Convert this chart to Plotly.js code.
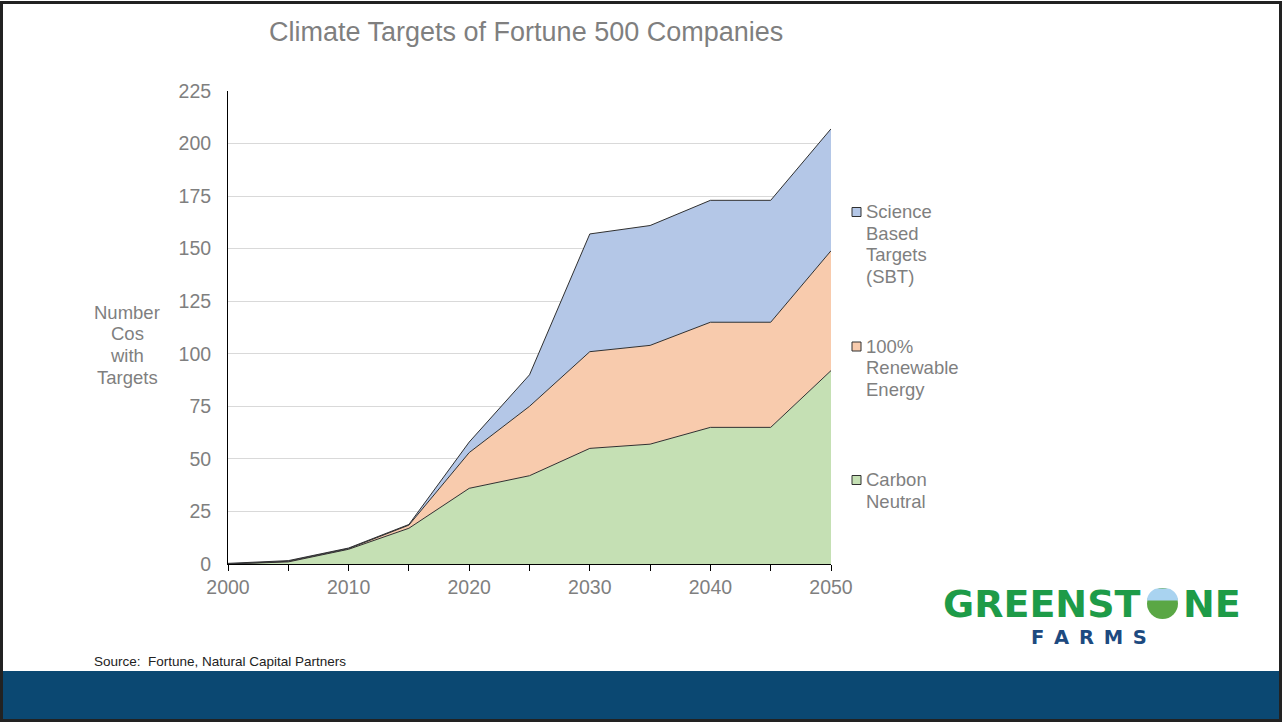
<!DOCTYPE html>
<html>
<head>
<meta charset="utf-8">
<script src="https://cdn.plot.ly/plotly-3.0.1.min.js"></script>
<style>
html,body{margin:0;padding:0;background:#fff;}
#chart{width:1282px;height:722px;}
</style>
</head>
<body>
<div id="chart"></div>
<script>
// ---- data ----
const years = [2000, 2005, 2010, 2015, 2020, 2025, 2030, 2035, 2040, 2045, 2050];
const carbonNeutral = [0, 1, 7, 17, 36, 42, 55, 57, 65, 65, 92];
const renewable100 = [0, 0.3, 0.3, 1.5, 17, 33, 46, 47, 50, 50, 57];
const scienceBased = [0.3, 0.3, 0.3, 0.3, 5, 15, 56, 57, 58, 58, 58];
const seriesNames = ["Carbon Neutral", "100% Renewable Energy", "Science Based Targets (SBT)"];
const legendLines = [["Science", "Based", "Targets", "(SBT)"], ["100%", "Renewable", "Energy"], ["Carbon", "Neutral"]];
const yTitleLines = ["Number", "Cos", "with", "Targets"];
const xTickVals = [2000, 2005, 2010, 2015, 2020, 2025, 2030, 2035, 2040, 2045, 2050];
const xTickText = ["2000", "", "2010", "", "2020", "", "2030", "", "2040", "", "2050"];
const yTickVals = [0, 25, 50, 75, 100, 125, 150, 175, 200, 225];

// ---- layout helpers (pixel -> paper) ----
const W = 1282, H = 722;
const L = 228, R = 831, T = 91, B = 564;
const px = x => (x - L) / (R - L);
const py = y => (B - y) / (B - T);

const fills = ["#c5e0b4", "#f8cbad", "#b4c7e7"];
const vals = [carbonNeutral, renewable100, scienceBased];
const traces = vals.map((v, i) => ({
  x: years, y: v, name: seriesNames[i], type: "scatter", mode: "lines",
  stackgroup: "one", fillcolor: fills[i],
  line: {color: "#303030", width: 1}, hoverinfo: "x+y+name"
}));

const gray = "#7f7f7f";
const font = "Liberation Sans, Arial, sans-serif";
const logoFont = "DejaVu Sans, sans-serif";

function txt(t, x, y, size, color, opts) {
  return Object.assign({text: t, xref: "paper", yref: "paper", x: px(x), y: py(y),
    xanchor: "center", yanchor: "middle", showarrow: false,
    font: {size: size, color: color, family: font}}, opts || {});
}

const annotations = [
  txt("Climate Targets of Fortune 500 Companies", 526, 32, 27, gray),
  txt("Source:  Fortune, Natural Capital Partners", 92, 661, 13.5, "#222", {xanchor: "left"}),
  txt("<b>GREENST</b>", 1143, 603.5, 38, "#1e9b48", {xanchor: "right", font: {size: 38, color: "#1e9b48", family: logoFont}}),
  txt("<b>NE</b>", 1181, 603.5, 38, "#1e9b48", {xanchor: "left", font: {size: 38, color: "#1e9b48", family: logoFont}}),
  txt("<b>F\u2002A\u2002R\u2002M\u2002S</b>", 1089, 637, 19.5, "#1d4a80", {font: {size: 19.5, color: "#1d4a80", family: logoFont}})
];
yTitleLines.forEach((t, i) => annotations.push(txt(t, 127, 312 + i * 21.7, 18.5, gray)));

const legendStarts = [212, 346.5, 480];
const legendFillIdx = [2, 1, 0];
const shapes = [
  // slide frame
  {type: "rect", xref: "paper", yref: "paper", x0: px(1.5), x1: px(1280.5), y0: py(2.5), y1: py(720.5),
   line: {color: "#222", width: 3}, fillcolor: "rgba(0,0,0,0)", layer: "above"},
  {type: "rect", xref: "paper", yref: "paper", x0: px(3), x1: px(1279), y0: py(671), y1: py(719),
   line: {width: 0}, fillcolor: "#0b4872", layer: "below"},
  // logo globe
  {type: "circle", xref: "paper", yref: "paper", x0: px(1147), x1: px(1178), y0: py(588), y1: py(619),
   line: {width: 0}, fillcolor: "#5aa745", layer: "above"}
];
(function(){
  const cx = 1162.5, cy = 601, r = 15.5;
  let d = "";
  for (let a = 180; a >= 0; a -= 10) {
    const X = cx + r * Math.cos(a * Math.PI / 180);
    const Y = cy - Math.sqrt(Math.max(0, r * r - (X - cx) * (X - cx))) * 0.85 - 0.5;
    d += (d ? " L " : "M ") + px(X) + " " + py(Math.max(Y, 588.5));
  }
  d += " Z";
  shapes.push({type: "path", xref: "paper", yref: "paper", path: d,
    line: {width: 0}, fillcolor: "#a9d3f0", layer: "above"});
})();

legendLines.forEach((lines, k) => {
  const y0 = legendStarts[k];
  shapes.push({type: "rect", xref: "paper", yref: "paper",
    x0: px(852), x1: px(861), y0: py(y0 - 4.5), y1: py(y0 + 4.5),
    fillcolor: fills[legendFillIdx[k]], line: {color: "#303030", width: 1}});
  lines.forEach((t, i) => annotations.push(
    txt(t, 864, y0 - 0.5 + i * 21.6, 18.5, gray, {xanchor: "left"})));
});

const layout = {
  width: W, height: H,
  margin: {l: L, r: W - R, t: T, b: H - B, pad: 0},
  paper_bgcolor: "#fff", plot_bgcolor: "#fff",
  showlegend: false,
  font: {family: font, color: gray, size: 19},
  xaxis: {range: [2000, 2050], tickvals: xTickVals, ticktext: xTickText,
    showgrid: false, zeroline: false, showline: true, linecolor: "#000", linewidth: 1,
    ticks: "outside", ticklen: 6, tickcolor: "#000",
    tickfont: {size: 19.5, color: gray, family: font}},
  yaxis: {range: [0, 225], tickvals: yTickVals, showgrid: true, gridcolor: "#d9d9d9",
    gridwidth: 1, zeroline: false, showline: true, linecolor: "#000", linewidth: 1,
    ticks: "outside", ticklen: 12, tickcolor: "rgba(0,0,0,0)",
    tickfont: {size: 19.5, color: gray, family: font}},
  annotations: annotations,
  shapes: shapes
};

Plotly.newPlot("chart", traces, layout, {displayModeBar: false, staticPlot: true});
</script>
</body>
</html>
